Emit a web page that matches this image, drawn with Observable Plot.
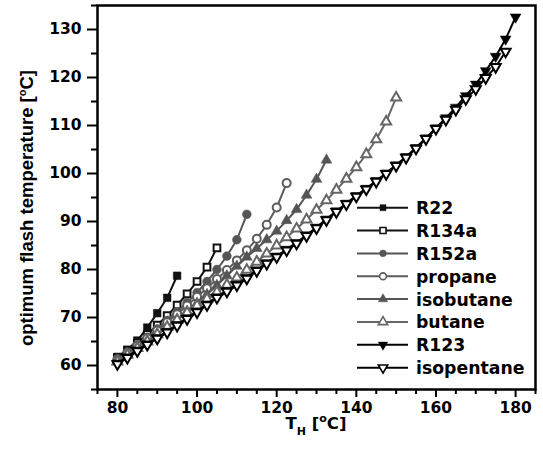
<!DOCTYPE html>
<html><head><meta charset="utf-8">
<script src="https://cdn.jsdelivr.net/npm/d3@7"></script>
<script src="https://cdn.jsdelivr.net/npm/@observablehq/plot@0.6"></script>
<style>body{margin:0;background:#fff;} #chart{width:543px;height:458px;}</style>
</head><body><div id="chart"></div>
<script>
// heat source temperature T_H [°C], shared by all series (each series uses the first n values)
const TH = [80, 82.5, 85, 87.5, 90, 92.5, 95, 97.5, 100, 102.5, 105, 107.5, 110, 112.5, 115, 117.5, 120, 122.5, 125, 127.5, 130, 132.5, 135, 137.5, 140, 142.5, 145, 147.5, 150, 152.5, 155, 157.5, 160, 162.5, 165, 167.5, 170, 172.5, 175, 177.5, 180];

// optimum flash temperature [°C]
const R22 = [61.8, 63.3, 65.2, 67.9, 70.9, 74.1, 78.7];
const R134a = [61.6, 63.1, 64.7, 66.5, 68.4, 70.4, 72.6, 74.9, 77.5, 80.5, 84.5];
const R152a = [61.4, 62.8, 64.3, 65.9, 67.6, 69.4, 71.2, 73.1, 75.2, 77.5, 80.0, 82.8, 86.2, 91.5];
const propane = [61.2, 62.6, 64.1, 65.7, 67.3, 69.0, 70.7, 72.5, 74.3, 76.1, 78.0, 79.9, 81.9, 84.0, 86.4, 89.3, 92.9, 98.0];
const isobutane = [61.0, 62.3, 63.7, 65.1, 66.5, 68.0, 69.6, 71.3, 73.0, 74.8, 76.7, 78.7, 80.7, 82.6, 84.4, 86.2, 88.0, 90.2, 92.5, 95.5, 98.8, 102.8];
const butane = [60.8, 62.2, 63.6, 65.0, 66.5, 68.0, 69.5, 71.0, 72.5, 73.9, 75.3, 76.8, 78.3, 79.9, 81.6, 83.3, 85.0, 86.7, 88.5, 90.4, 92.4, 94.4, 96.6, 98.9, 101.3, 104.0, 107.1, 110.8, 115.8];
const R123 = [60.5, 61.8, 63.2, 64.5, 65.8, 67.1, 68.5, 69.9, 71.3, 72.8, 74.3, 75.6, 76.9, 78.3, 79.9, 81.4, 82.8, 84.2, 85.6, 87.2, 88.8, 90.5, 92.2, 93.8, 95.4, 96.9, 98.5, 100.1, 101.8, 103.5, 105.4, 107.4, 109.5, 111.6, 113.8, 116.2, 118.6, 121.4, 124.4, 128.0, 132.6];
const isopentane = [60.3, 61.6, 63.0, 64.3, 65.6, 66.9, 68.3, 69.7, 71.1, 72.6, 74.1, 75.4, 76.7, 78.1, 79.7, 81.2, 82.6, 84.0, 85.4, 87.0, 88.6, 90.3, 92.0, 93.6, 95.2, 96.7, 98.3, 99.9, 101.6, 103.3, 105.2, 107.2, 109.3, 111.2, 113.3, 115.5, 117.6, 119.9, 122.2, 125.4];

const seriesNames = ["R22", "R134a", "R152a", "propane", "isobutane", "butane", "R123", "isopentane"];
const seriesValues = [R22, R134a, R152a, propane, isobutane, butane, R123, isopentane];
const xTicks = [80, 100, 120, 140, 160, 180];
const yTicks = [60, 70, 80, 90, 100, 110, 120, 130];
const xMinor = [75, 85, 90, 95, 105, 110, 115, 125, 130, 135, 145, 150, 155, 165, 170, 175, 185];
const yMinor = [55, 65, 75, 85, 95, 105, 115, 125, 135];

const styles = {
  R22:        {symbol: "square",   color: "#111", filled: true,  r: 4.3, rotate: 0},
  R134a:      {symbol: "square",   color: "#111", filled: false, r: 3.8, rotate: 0},
  R152a:      {symbol: "circle",   color: "#555", filled: true,  r: 4.4, rotate: 0},
  propane:    {symbol: "circle",   color: "#5c5c5c", filled: false, r: 4.0, rotate: 0},
  isobutane:  {symbol: "triangle", color: "#555", filled: true,  r: 4.0, rotate: 0},
  butane:     {symbol: "triangle", color: "#666", filled: false, r: 3.7, rotate: 0},
  R123:       {symbol: "triangle", color: "#000", filled: true,  r: 4.0, rotate: 180},
  isopentane: {symbol: "triangle", color: "#000", filled: false, r: 3.7, rotate: 180}
};

const marks = [];
seriesNames.forEach((name, i) => {
  const vals = seriesValues[i];
  const data = vals.map((v, j) => ({th: TH[j], t: v}));
  const s = styles[name];
  marks.push(Plot.line(data, {x: "th", y: "t", stroke: s.color, strokeWidth: 2}));
  marks.push(Plot.dot(data, {
    x: "th", y: "t", symbol: s.symbol, r: s.r, rotate: s.rotate,
    fill: s.filled ? s.color : "white",
    stroke: s.color, strokeWidth: s.filled ? 0.5 : 2
  }));
});

const plot = Plot.plot({
  width: 543, height: 458,
  marginLeft: 97, marginRight: 8, marginTop: 5, marginBottom: 69,
  style: {fontFamily: "DejaVu Sans", fontWeight: "bold", fontSize: "15.5px", color: "#000", background: "#fff"},
  x: {domain: [75, 185]},
  y: {domain: [55, 135]},
  marks: [
    ...marks,
    Plot.axisX({ticks: xMinor, tickSize: 5, tickFormat: () => "", label: null, strokeWidth: 2}),
    Plot.axisX({ticks: xTicks, tickSize: 8, tickPadding: 4, label: null, strokeWidth: 2}),
    Plot.axisY({ticks: yMinor, tickSize: 6, tickFormat: () => "", label: null, strokeWidth: 2}),
    Plot.axisY({ticks: yTicks, tickSize: 10, tickPadding: 6, label: null, strokeWidth: 2}),
    Plot.frame({stroke: "#000", strokeWidth: 2.5})
  ]
});
document.getElementById("chart").appendChild(plot);

const svg = d3.select(plot);

// y axis title
const yt = svg.append("text")
  .attr("transform", "translate(33,208) rotate(-90)")
  .attr("text-anchor", "middle")
  .style("font-family", "'Liberation Sans', Arial, sans-serif")
  .style("font-weight", "bold").style("font-size", "18.5px").attr("fill", "#000");
yt.append("tspan").text("optimum flash temperature [");
yt.append("tspan").attr("dy", -7).style("font-size", "11px").text("o");
yt.append("tspan").attr("dy", 7).text("C]");

// x axis title
const xt = svg.append("text")
  .attr("x", 316).attr("y", 429)
  .attr("text-anchor", "middle")
  .style("font-family", "'DejaVu Sans', sans-serif")
  .style("font-weight", "bold").style("font-size", "16.5px").attr("fill", "#000");
xt.append("tspan").text("T");
xt.append("tspan").attr("dy", 6).style("font-size", "11px").text("H");
xt.append("tspan").attr("dy", -6).text(" [");
xt.append("tspan").attr("dy", -7).style("font-size", "11px").text("o");
xt.append("tspan").attr("dy", 7).text("C]");

// legend
const lg = svg.append("g").attr("text-anchor", "start");
seriesNames.forEach((name, i) => {
  const s = styles[name];
  const y = 207.7 + i * 22.85;
  lg.append("line").attr("x1", 357).attr("x2", 408).attr("y1", y).attr("y2", y)
    .attr("stroke", s.color).attr("stroke-width", 2);
  const type = s.symbol === "square" ? d3.symbolSquare : s.symbol === "circle" ? d3.symbolCircle : d3.symbolTriangle;
  lg.append("path").attr("d", d3.symbol(type, s.symbol === "triangle" ? 38 : 36)())
    .attr("transform", `translate(383,${y}) rotate(${s.rotate})`)
    .attr("fill", s.filled ? s.color : "white")
    .attr("stroke", s.color).attr("stroke-width", s.filled ? 0.5 : 1.6);
  lg.append("text").attr("x", 416).attr("y", y + 6.5)
    .attr("text-anchor", "start")
    .style("font-family", "'DejaVu Sans', sans-serif")
    .style("font-weight", "bold").style("font-size", "17.3px").attr("fill", "#000")
    .text(name);
});
</script>
</body></html>
